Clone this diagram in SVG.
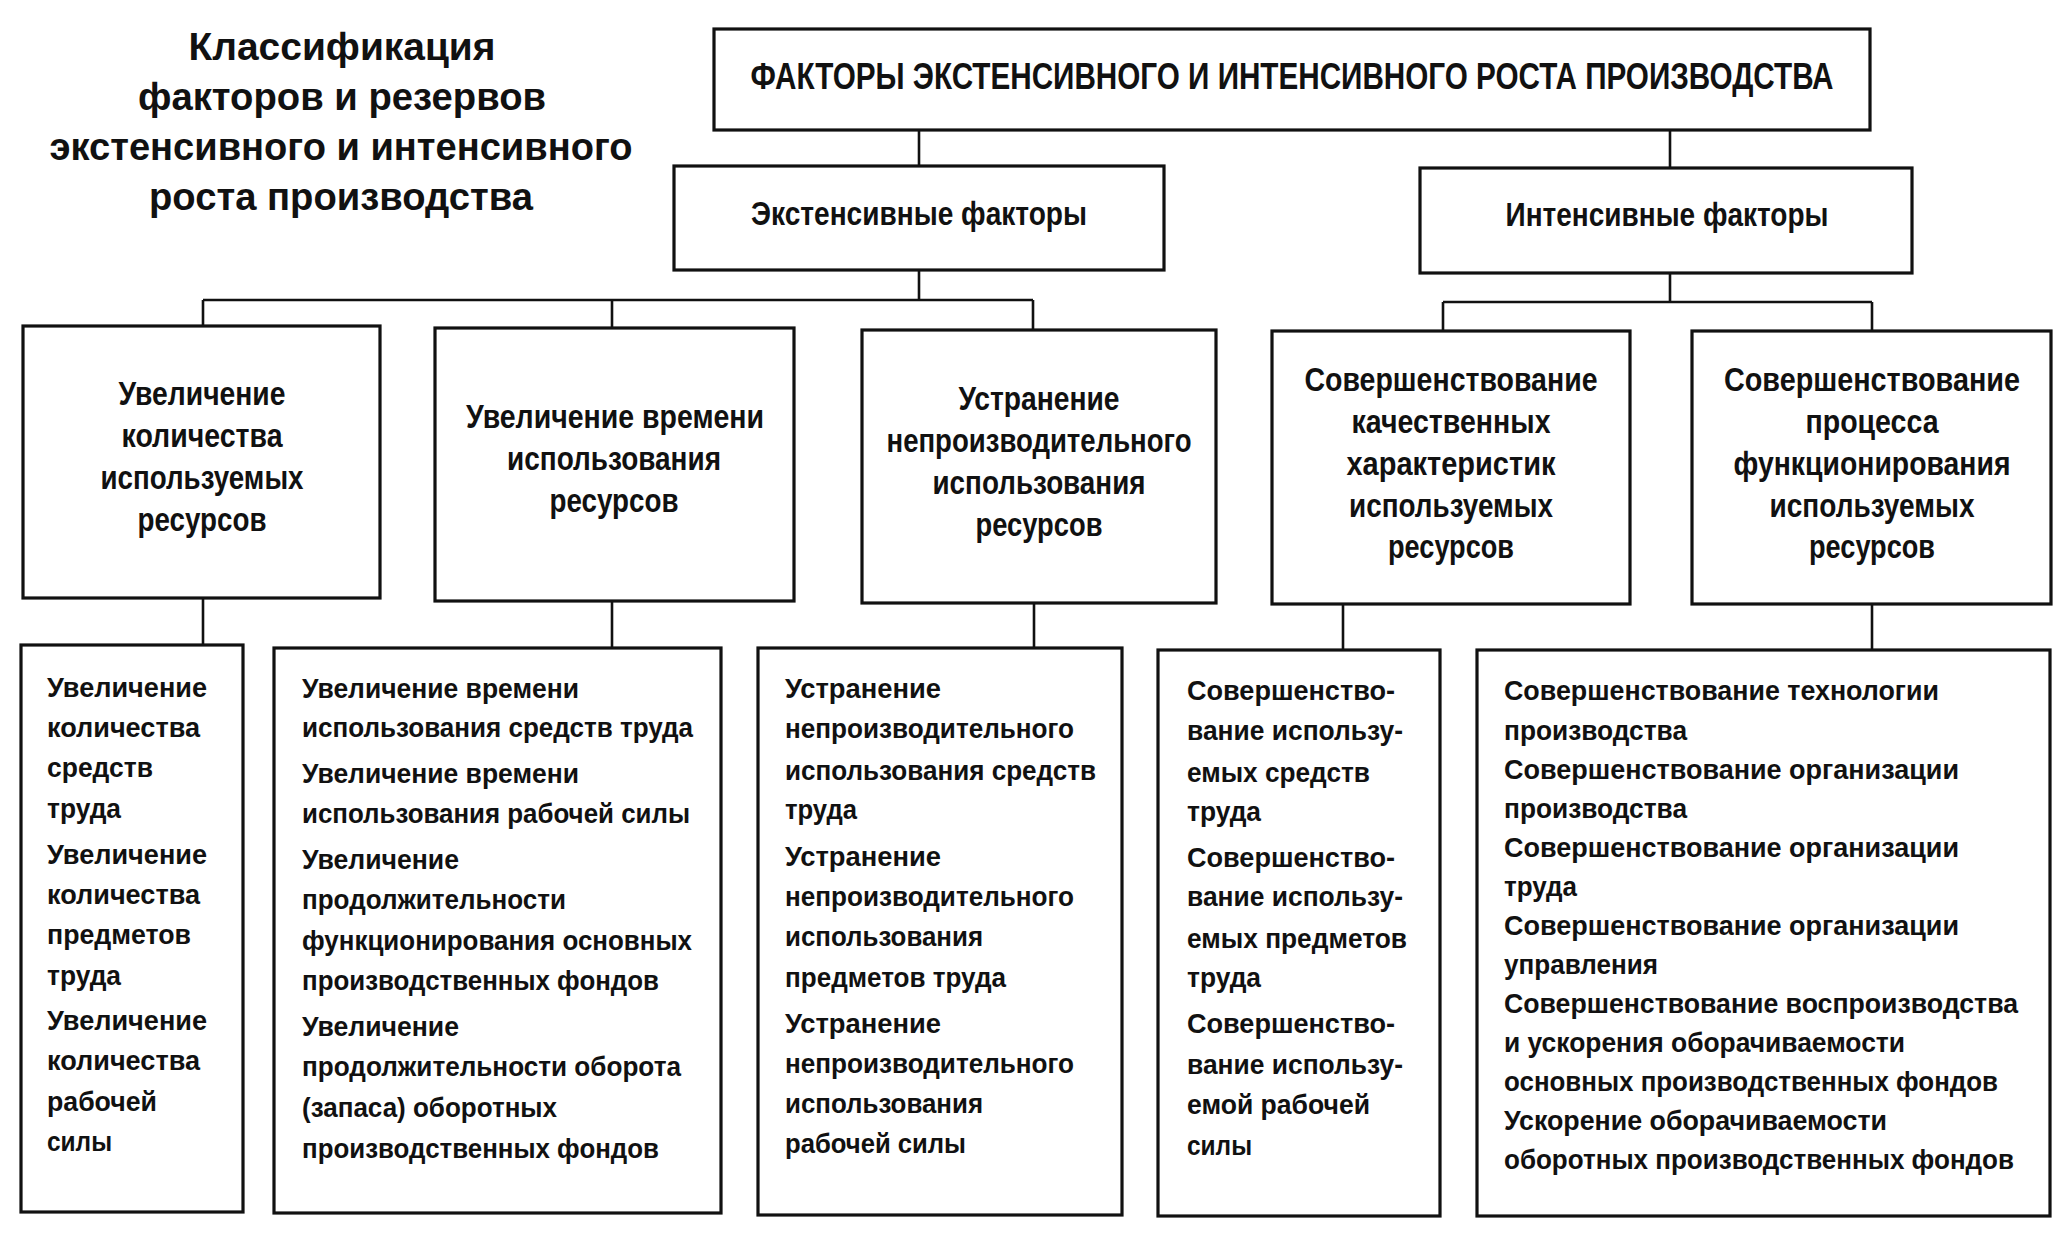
<svg xmlns="http://www.w3.org/2000/svg" width="2071" height="1252" viewBox="0 0 2071 1252">
<style>
.box{fill:#fff;stroke:#111;stroke-width:3.2}
.conn path{stroke:#111;stroke-width:2.6;fill:none}
text{font-family:"Liberation Sans","Arial",sans-serif;fill:#111;font-weight:bold}
.t{font-size:39px}
.top{font-size:36px;text-anchor:middle}
.l1{font-size:33px;text-anchor:middle}
.l2{font-size:34px;text-anchor:middle}
.l3{font-size:28px}
</style>
<rect width="2071" height="1252" fill="#fff"/>
<g id="title" text-anchor="middle">
<text class="t" x="342" y="60" textLength="307" lengthAdjust="spacingAndGlyphs">Классификация</text>
<text class="t" x="342" y="110" textLength="408" lengthAdjust="spacingAndGlyphs">факторов и резервов</text>
<text class="t" x="341" y="160" textLength="583" lengthAdjust="spacingAndGlyphs">экстенсивного и интенсивного</text>
<text class="t" x="341" y="210" textLength="384" lengthAdjust="spacingAndGlyphs">роста производства</text>
</g>
<g class="conn" id="connectors">
<path d="M919,130V166"/>
<path d="M1670,130V168"/>
<path d="M919,270V300M203,300H1033M203,300V326M612,300V328M1033,300V330"/>
<path d="M1670,273V302M1443,302H1872M1443,302V331M1872,302V331"/>
<path d="M203,598V645"/>
<path d="M612,601V648"/>
<path d="M1034,603V648"/>
<path d="M1343,604V650"/>
<path d="M1872,604V650"/>
</g>
<g id="n-top">
<rect class="box" x="714" y="29" width="1156" height="101"/>
<text class="top" x="1292" y="89" textLength="1083" lengthAdjust="spacingAndGlyphs">ФАКТОРЫ ЭКСТЕНСИВНОГО И ИНТЕНСИВНОГО РОСТА ПРОИЗВОДСТВА</text>
</g>
<g id="n-ext">
<rect class="box" x="674" y="166" width="490" height="104"/>
<text class="l1" x="919" y="225" textLength="336" lengthAdjust="spacingAndGlyphs">Экстенсивные факторы</text>
</g>
<g id="n-int">
<rect class="box" x="1420" y="168" width="492" height="105"/>
<text class="l1" x="1667" y="226" textLength="323" lengthAdjust="spacingAndGlyphs">Интенсивные факторы</text>
</g>
<g id="n-a">
<rect class="box" x="23" y="326" width="357" height="272"/>
<text class="l2" x="202" y="405" textLength="167" lengthAdjust="spacingAndGlyphs">Увеличение</text>
<text class="l2" x="202" y="447" textLength="161" lengthAdjust="spacingAndGlyphs">количества</text>
<text class="l2" x="202" y="489" textLength="203" lengthAdjust="spacingAndGlyphs">используемых</text>
<text class="l2" x="202" y="531" textLength="129" lengthAdjust="spacingAndGlyphs">ресурсов</text>
</g>
<g id="n-b">
<rect class="box" x="435" y="328" width="359" height="273"/>
<text class="l2" x="615" y="428" textLength="298" lengthAdjust="spacingAndGlyphs">Увеличение времени</text>
<text class="l2" x="614" y="470" textLength="214" lengthAdjust="spacingAndGlyphs">использования</text>
<text class="l2" x="614" y="512" textLength="129" lengthAdjust="spacingAndGlyphs">ресурсов</text>
</g>
<g id="n-c">
<rect class="box" x="862" y="330" width="354" height="273"/>
<text class="l2" x="1039" y="410" textLength="161" lengthAdjust="spacingAndGlyphs">Устранение</text>
<text class="l2" x="1039" y="452" textLength="305" lengthAdjust="spacingAndGlyphs">непроизводительного</text>
<text class="l2" x="1039" y="494" textLength="213" lengthAdjust="spacingAndGlyphs">использования</text>
<text class="l2" x="1039" y="536" textLength="127" lengthAdjust="spacingAndGlyphs">ресурсов</text>
</g>
<g id="n-d">
<rect class="box" x="1272" y="331" width="358" height="273"/>
<text class="l2" x="1451" y="391" textLength="293" lengthAdjust="spacingAndGlyphs">Совершенствование</text>
<text class="l2" x="1451" y="433" textLength="199" lengthAdjust="spacingAndGlyphs">качественных</text>
<text class="l2" x="1451" y="475" textLength="209" lengthAdjust="spacingAndGlyphs">характеристик</text>
<text class="l2" x="1451" y="517" textLength="204" lengthAdjust="spacingAndGlyphs">используемых</text>
<text class="l2" x="1451" y="558" textLength="126" lengthAdjust="spacingAndGlyphs">ресурсов</text>
</g>
<g id="n-e">
<rect class="box" x="1692" y="331" width="359" height="273"/>
<text class="l2" x="1872" y="391" textLength="296" lengthAdjust="spacingAndGlyphs">Совершенствование</text>
<text class="l2" x="1872" y="433" textLength="133" lengthAdjust="spacingAndGlyphs">процесса</text>
<text class="l2" x="1872" y="475" textLength="277" lengthAdjust="spacingAndGlyphs">функционирования</text>
<text class="l2" x="1872" y="517" textLength="205" lengthAdjust="spacingAndGlyphs">используемых</text>
<text class="l2" x="1872" y="558" textLength="126" lengthAdjust="spacingAndGlyphs">ресурсов</text>
</g>
<g id="n-a3">
<rect class="box" x="21" y="645" width="222" height="567"/>
<text class="l3" x="47" y="697" textLength="160" lengthAdjust="spacingAndGlyphs">Увеличение</text>
<text class="l3" x="47" y="737" textLength="153" lengthAdjust="spacingAndGlyphs">количества</text>
<text class="l3" x="47" y="777" textLength="106" lengthAdjust="spacingAndGlyphs">средств</text>
<text class="l3" x="47" y="818" textLength="74" lengthAdjust="spacingAndGlyphs">труда</text>
<text class="l3" x="47" y="864" textLength="160" lengthAdjust="spacingAndGlyphs">Увеличение</text>
<text class="l3" x="47" y="904" textLength="153" lengthAdjust="spacingAndGlyphs">количества</text>
<text class="l3" x="47" y="944" textLength="144" lengthAdjust="spacingAndGlyphs">предметов</text>
<text class="l3" x="47" y="985" textLength="74" lengthAdjust="spacingAndGlyphs">труда</text>
<text class="l3" x="47" y="1030" textLength="160" lengthAdjust="spacingAndGlyphs">Увеличение</text>
<text class="l3" x="47" y="1070" textLength="153" lengthAdjust="spacingAndGlyphs">количества</text>
<text class="l3" x="47" y="1111" textLength="110" lengthAdjust="spacingAndGlyphs">рабочей</text>
<text class="l3" x="47" y="1151" textLength="65" lengthAdjust="spacingAndGlyphs">силы</text>
</g>
<g id="n-b3">
<rect class="box" x="274" y="648" width="447" height="565"/>
<text class="l3" x="302" y="698" textLength="277" lengthAdjust="spacingAndGlyphs">Увеличение времени</text>
<text class="l3" x="302" y="737" textLength="391" lengthAdjust="spacingAndGlyphs">использования средств труда</text>
<text class="l3" x="302" y="783" textLength="277" lengthAdjust="spacingAndGlyphs">Увеличение времени</text>
<text class="l3" x="302" y="823" textLength="388" lengthAdjust="spacingAndGlyphs">использования рабочей силы</text>
<text class="l3" x="302" y="869" textLength="157" lengthAdjust="spacingAndGlyphs">Увеличение</text>
<text class="l3" x="302" y="909" textLength="264" lengthAdjust="spacingAndGlyphs">продолжительности</text>
<text class="l3" x="302" y="950" textLength="390" lengthAdjust="spacingAndGlyphs">функционирования основных</text>
<text class="l3" x="302" y="990" textLength="357" lengthAdjust="spacingAndGlyphs">производственных фондов</text>
<text class="l3" x="302" y="1036" textLength="157" lengthAdjust="spacingAndGlyphs">Увеличение</text>
<text class="l3" x="302" y="1076" textLength="379" lengthAdjust="spacingAndGlyphs">продолжительности оборота</text>
<text class="l3" x="302" y="1117" textLength="255" lengthAdjust="spacingAndGlyphs">(запаса) оборотных</text>
<text class="l3" x="302" y="1158" textLength="357" lengthAdjust="spacingAndGlyphs">производственных фондов</text>
</g>
<g id="n-c3">
<rect class="box" x="758" y="648" width="364" height="567"/>
<text class="l3" x="785" y="698" textLength="156" lengthAdjust="spacingAndGlyphs">Устранение</text>
<text class="l3" x="785" y="738" textLength="289" lengthAdjust="spacingAndGlyphs">непроизводительного</text>
<text class="l3" x="785" y="780" textLength="311" lengthAdjust="spacingAndGlyphs">использования средств</text>
<text class="l3" x="785" y="819" textLength="72" lengthAdjust="spacingAndGlyphs">труда</text>
<text class="l3" x="785" y="866" textLength="156" lengthAdjust="spacingAndGlyphs">Устранение</text>
<text class="l3" x="785" y="906" textLength="289" lengthAdjust="spacingAndGlyphs">непроизводительного</text>
<text class="l3" x="785" y="946" textLength="198" lengthAdjust="spacingAndGlyphs">использования</text>
<text class="l3" x="785" y="987" textLength="221" lengthAdjust="spacingAndGlyphs">предметов труда</text>
<text class="l3" x="785" y="1033" textLength="156" lengthAdjust="spacingAndGlyphs">Устранение</text>
<text class="l3" x="785" y="1073" textLength="289" lengthAdjust="spacingAndGlyphs">непроизводительного</text>
<text class="l3" x="785" y="1113" textLength="198" lengthAdjust="spacingAndGlyphs">использования</text>
<text class="l3" x="785" y="1153" textLength="181" lengthAdjust="spacingAndGlyphs">рабочей силы</text>
</g>
<g id="n-d3">
<rect class="box" x="1158" y="650" width="282" height="566"/>
<text class="l3" x="1187" y="700" textLength="208" lengthAdjust="spacingAndGlyphs">Совершенство-</text>
<text class="l3" x="1187" y="740" textLength="216" lengthAdjust="spacingAndGlyphs">вание использу-</text>
<text class="l3" x="1187" y="782" textLength="183" lengthAdjust="spacingAndGlyphs">емых средств</text>
<text class="l3" x="1187" y="821" textLength="74" lengthAdjust="spacingAndGlyphs">труда</text>
<text class="l3" x="1187" y="867" textLength="208" lengthAdjust="spacingAndGlyphs">Совершенство-</text>
<text class="l3" x="1187" y="906" textLength="216" lengthAdjust="spacingAndGlyphs">вание использу-</text>
<text class="l3" x="1187" y="948" textLength="220" lengthAdjust="spacingAndGlyphs">емых предметов</text>
<text class="l3" x="1187" y="987" textLength="74" lengthAdjust="spacingAndGlyphs">труда</text>
<text class="l3" x="1187" y="1033" textLength="208" lengthAdjust="spacingAndGlyphs">Совершенство-</text>
<text class="l3" x="1187" y="1074" textLength="216" lengthAdjust="spacingAndGlyphs">вание использу-</text>
<text class="l3" x="1187" y="1114" textLength="183" lengthAdjust="spacingAndGlyphs">емой рабочей</text>
<text class="l3" x="1187" y="1155" textLength="65" lengthAdjust="spacingAndGlyphs">силы</text>
</g>
<g id="n-e3">
<rect class="box" x="1477" y="650" width="573" height="566"/>
<text class="l3" x="1504" y="700" textLength="435" lengthAdjust="spacingAndGlyphs">Совершенствование технологии</text>
<text class="l3" x="1504" y="740" textLength="183" lengthAdjust="spacingAndGlyphs">производства</text>
<text class="l3" x="1504" y="779" textLength="455" lengthAdjust="spacingAndGlyphs">Совершенствование организации</text>
<text class="l3" x="1504" y="818" textLength="183" lengthAdjust="spacingAndGlyphs">производства</text>
<text class="l3" x="1504" y="857" textLength="455" lengthAdjust="spacingAndGlyphs">Совершенствование организации</text>
<text class="l3" x="1504" y="896" textLength="73" lengthAdjust="spacingAndGlyphs">труда</text>
<text class="l3" x="1504" y="935" textLength="455" lengthAdjust="spacingAndGlyphs">Совершенствование организации</text>
<text class="l3" x="1504" y="974" textLength="154" lengthAdjust="spacingAndGlyphs">управления</text>
<text class="l3" x="1504" y="1013" textLength="514" lengthAdjust="spacingAndGlyphs">Совершенствование воспроизводства</text>
<text class="l3" x="1504" y="1052" textLength="401" lengthAdjust="spacingAndGlyphs">и ускорения оборачиваемости</text>
<text class="l3" x="1504" y="1091" textLength="494" lengthAdjust="spacingAndGlyphs">основных производственных фондов</text>
<text class="l3" x="1504" y="1130" textLength="383" lengthAdjust="spacingAndGlyphs">Ускорение оборачиваемости</text>
<text class="l3" x="1504" y="1169" textLength="510" lengthAdjust="spacingAndGlyphs">оборотных производственных фондов</text>
</g>
</svg>
